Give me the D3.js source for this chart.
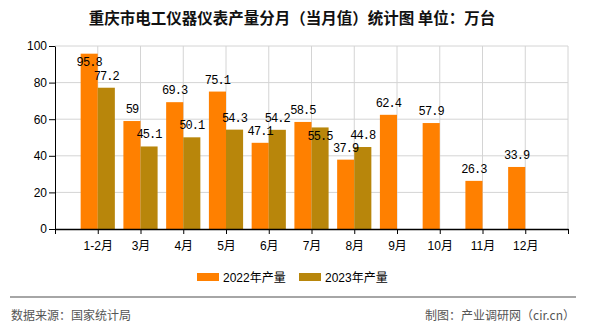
<!DOCTYPE html>
<html><head><meta charset="utf-8">
<script src="https://cdn.jsdelivr.net/npm/d3@7/dist/d3.min.js"></script>
<style>
body{margin:0;background:#fff;}
svg{display:block;}
</style></head>
<body>
<svg id="c" width="590" height="330"></svg>
<script>
const categories = ["1-2月","3月","4月","5月","6月","7月","8月","9月","10月","11月","12月"];
const series2022 = [95.8,59,69.3,75.1,47.1,58.5,37.9,62.4,57.9,26.3,33.9];
const series2023 = [77.2,45.1,50.1,54.3,54.2,55.5,44.8,null,null,null,null];
const seriesNames = ["2022年产量","2023年产量"];
const colors = ["#FF8000","#B8860B"];
const yTicks = [0,20,40,60,80,100];

const svg = d3.select("#c");
const W=590,H=330;
const m={l:55,r:22,t:46,b:101};
const x = d3.scaleLinear().domain([0,categories.length+1]).range([m.l,W-m.r]);
const y = d3.scaleLinear().domain([0,100]).range([H-m.b,m.t]);
const slot = x(1)-x(0);
const bw = slot*0.4;
const cjk = "'Liberation Sans','Noto Sans CJK SC',sans-serif";

// title
svg.append("text").attr("x",292).attr("y",24).attr("text-anchor","middle")
  .attr("font-family","'Noto Sans CJK SC',sans-serif").attr("font-size",15.5).attr("font-weight","bold")
  .attr("fill","#111").text("重庆市电工仪器仪表产量分月（当月值）统计图 单位：万台");

// grid
const g = svg.append("g");
g.selectAll(".hg").data(yTicks.filter(d=>d>0)).join("line")
  .attr("x1",x(0)).attr("x2",x(categories.length+1))
  .attr("y1",d=>y(d)).attr("y2",d=>y(d)).attr("stroke","#d4d4d4").attr("stroke-width",1);
g.selectAll(".vg").data(d3.range(1,categories.length+2)).join("line")
  .attr("x1",d=>x(d)).attr("x2",d=>x(d))
  .attr("y1",y(0)).attr("y2",y(100)).attr("stroke","#d4d4d4").attr("stroke-width",1);

// bars
const allSeries=[series2022,series2023];
allSeries.forEach((s,si)=>{
  svg.append("g").selectAll("rect").data(s.map((v,i)=>({v,i})).filter(d=>d.v!=null)).join("rect")
    .attr("x",d=>x(d.i+1)-bw+si*bw).attr("width",bw)
    .attr("y",d=>y(d.v)).attr("height",d=>y(0)-y(d.v)).attr("fill",colors[si]);
});

// axes
const yAxis = svg.append("g").attr("transform",`translate(${m.l},0)`)
  .call(d3.axisLeft(y).tickValues(yTicks).tickSize(6).tickSizeOuter(0).tickPadding(2));
yAxis.select(".domain").attr("stroke","#000");
yAxis.selectAll("text").attr("font-family",cjk).attr("font-size",12).attr("fill","#000");
const xAxis = svg.append("g").attr("transform",`translate(0,${y(0)})`)
  .call(d3.axisBottom(x).tickValues(d3.range(0,categories.length+2)).tickSize(5).tickSizeOuter(0)
    .tickFormat(d=> (d>=1 && d<=categories.length)? categories[d-1] : ""));
xAxis.select(".domain").attr("stroke","#000").attr("stroke-width",1.5);
xAxis.selectAll("text").attr("font-family",cjk).attr("font-size",12).attr("fill","#000").attr("dy","1.1em");

// labels with simple collision avoidance
const labels=[];
series2022.forEach((v,i)=>{
  if(v==null) return;
  let c=y(v)-12.5;
  if(c-6<m.t) c=y(v)+8;
  labels.push({v,cx:x(i+1)-bw/2,cy:c,i,s:0});
});
series2023.forEach((v,i)=>{
  if(v==null) return;
  let c=y(v)-12.5;
  const o=labels.find(l=>l.i===i&&l.s===0);
  if(c-6<m.t || (o && Math.abs(o.cy-c)<11)) c=y(v)+8;
  labels.push({v,cx:x(i+1)+bw/2,cy:c,i,s:1});
});
svg.append("g").selectAll("text").data(labels).join("text")
  .attr("x",d=>d.cx).attr("y",d=>d.cy+4.5).attr("text-anchor","middle")
  .attr("font-family","'Liberation Mono',monospace").attr("font-size",12).attr("letter-spacing","-0.9px")
  .attr("fill","#000")
  .text(d=>d.v);

// legend
const lg = svg.append("g");
const lx=[197,299];
seriesNames.forEach((n,i)=>{
  lg.append("rect").attr("x",lx[i]).attr("y",273).attr("width",22).attr("height",8).attr("fill",colors[i]);
  lg.append("text").attr("x",lx[i]+26).attr("y",281.5).attr("font-family",cjk).attr("font-size",12)
    .attr("fill","#000").text(n);
});

// footer
svg.append("line").attr("x1",10).attr("x2",576).attr("y1",297).attr("y2",297).attr("stroke","#888").attr("stroke-width",1.5);
svg.append("text").attr("x",11).attr("y",320).attr("font-family","'Noto Sans CJK SC',sans-serif")
  .attr("font-size",12).attr("fill","#555").text("数据来源：国家统计局");
svg.append("text").attr("x",575).attr("y",320).attr("text-anchor","end").attr("font-family","'Noto Sans CJK SC',sans-serif")
  .attr("font-size",12).attr("fill","#555").text("制图：产业调研网（cir.cn）");
</script>
</body></html>
